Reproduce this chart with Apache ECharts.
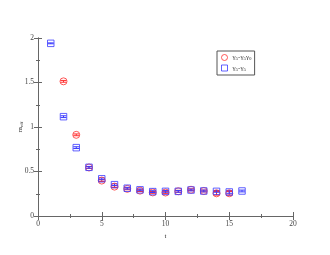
<!DOCTYPE html>
<html><head><meta charset="utf-8">
<script src="https://cdn.jsdelivr.net/npm/echarts@6/dist/echarts.min.js"></script>
<style>html,body{margin:0;padding:0;background:#fff}#c{width:330px;height:255px}</style>
</head><body><div id="c"></div>
<script>
var tRed = [2,3,4,5,6,7,8,9,10,11,12,13,14,15];
var mRed = [1.513,0.912,0.545,0.398,0.330,0.305,0.285,0.265,0.264,0.278,0.295,0.281,0.255,0.255];
var eRed = [0.01,0.01,0.01,0.01,0.01,0.01,0.01,0.01,0.01,0.01,0.01,0.01,0.02,0.02];
var tBlue = [1,2,3,4,5,6,7,8,9,10,11,12,13,14,15,16];
var mBlue = [1.94,1.116,0.768,0.547,0.418,0.352,0.312,0.294,0.274,0.277,0.277,0.292,0.281,0.277,0.270,0.281];
var eBlue = [0.005,0.01,0.01,0.01,0.01,0.01,0.01,0.01,0.01,0.01,0.01,0.01,0.01,0.01,0.015,0.01];
var xTicks = [0,5,10,15,20];
var yTicks = [0,0.5,1,1.5,2];
var nameRed = '{n|γ}{s|5}{n|-γ}{s|5}{n|γ}{s|0}';
var nameBlue = '{n|γ}{s|5}{n|-γ}{s|5}';
var yName = '{n|m}{s|eff}';

var font = 'Liberation Serif';
var axisCol = '#666';
var richSub = {n:{fontFamily:font,fontSize:7,color:'#333'}, s:{fontFamily:font,fontSize:5,color:'#333',verticalAlign:'bottom',padding:[3,0,0,0]}};
function pairs(t, m){ return t.map(function(v,i){return [v, m[i]];}); }
function errData(t, m, e){ return t.map(function(v,i){return [v, m[i]-e[i], m[i]+e[i]];}); }
function errSeries(t, m, e, col){
  return {type:'custom', silent:true, data: errData(t,m,e), z:3,
    renderItem:function(params, api){
      var x = api.value(0), lo = api.coord([x, api.value(1)]), hi = api.coord([x, api.value(2)]);
      var w = 3;
      return {type:'group', children:[
        {type:'line', shape:{x1:lo[0],y1:lo[1],x2:hi[0],y2:hi[1]}, style:{stroke:col,lineWidth:1}},
        {type:'line', shape:{x1:lo[0]-w,y1:lo[1],x2:lo[0]+w,y2:lo[1]}, style:{stroke:col,lineWidth:1}},
        {type:'line', shape:{x1:hi[0]-w,y1:hi[1],x2:hi[0]+w,y2:hi[1]}, style:{stroke:col,lineWidth:1}}
      ]};
    }};
}
var chart = echarts.init(document.getElementById('c'), null, {renderer:'canvas'});
var baseX = {type:'value', min:0, max:20, interval:5,
  axisLine:{lineStyle:{color:axisCol,width:1}},
  axisTick:{inside:true,length:4,lineStyle:{color:axisCol}},
  minorTick:{show:true,splitNumber:2,length:2,lineStyle:{color:axisCol}},
  splitLine:{show:false}};
var baseY = {type:'value', min:0, max:2, interval:0.5,
  axisLine:{show:true,lineStyle:{color:axisCol,width:1}},
  axisTick:{inside:true,length:4,lineStyle:{color:axisCol}},
  minorTick:{show:true,splitNumber:2,length:2,lineStyle:{color:axisCol}},
  splitLine:{show:false}};
chart.setOption({
  animation:false,
  backgroundColor:'#fff',
  grid:{left:38,right:37,top:38,bottom:39},
  legend:{left:217, top:51, orient:'vertical', itemWidth:6, itemHeight:6, itemGap:3,
    padding:[3,3,3,4], borderColor:'#555', borderWidth:1, itemStyle:{borderWidth:1},
    textStyle:{fontFamily:font, fontSize:7, color:'#333', rich:richSub},
    data:[{name:nameRed, icon:'circle'},{name:nameBlue, icon:'rect'}]},
  graphic:[{type:'text', x:20, y:127, rotation:Math.PI/2, z:10,
    style:{text:yName, rich:richSub, fontFamily:font, fontSize:7, fill:'#333', align:'center', verticalAlign:'middle'}}],
  xAxis:[
    Object.assign({}, baseX, {position:'bottom', name:'t', nameLocation:'middle', nameGap:13,
      nameTextStyle:{fontFamily:font,fontSize:7,color:'#333'},
      axisLabel:{fontFamily:font,fontSize:7.5,color:'#444',margin:4,
        formatter:function(v){return xTicks.indexOf(v)>=0?String(v):'';}}}),
    Object.assign({}, baseX, {position:'top', axisLabel:{show:false}})
  ],
  yAxis:[
    Object.assign({}, baseY, {position:'left',
      axisLabel:{fontFamily:font,fontSize:7.5,color:'#444',margin:4,
        formatter:function(v){return yTicks.indexOf(v)>=0?String(v):'';}}}),
    Object.assign({}, baseY, {position:'right', axisLabel:{show:false}})
  ],
  series:[
    {name:nameRed, type:'scatter', data:pairs(tRed,mRed), symbol:'circle', symbolSize:7, z:4,
      itemStyle:{color:'rgba(0,0,0,0)', borderColor:'#ff3030', borderWidth:1}},
    {name:nameBlue, type:'scatter', data:pairs(tBlue,mBlue), symbol:'rect', symbolSize:6.5, z:5,
      itemStyle:{color:'rgba(0,0,0,0)', borderColor:'#3a3aff', borderWidth:1}},
    errSeries(tRed,mRed,eRed,'#ff3030'),
    errSeries(tBlue,mBlue,eBlue,'#3a3aff')
  ]
});
</script></body></html>
